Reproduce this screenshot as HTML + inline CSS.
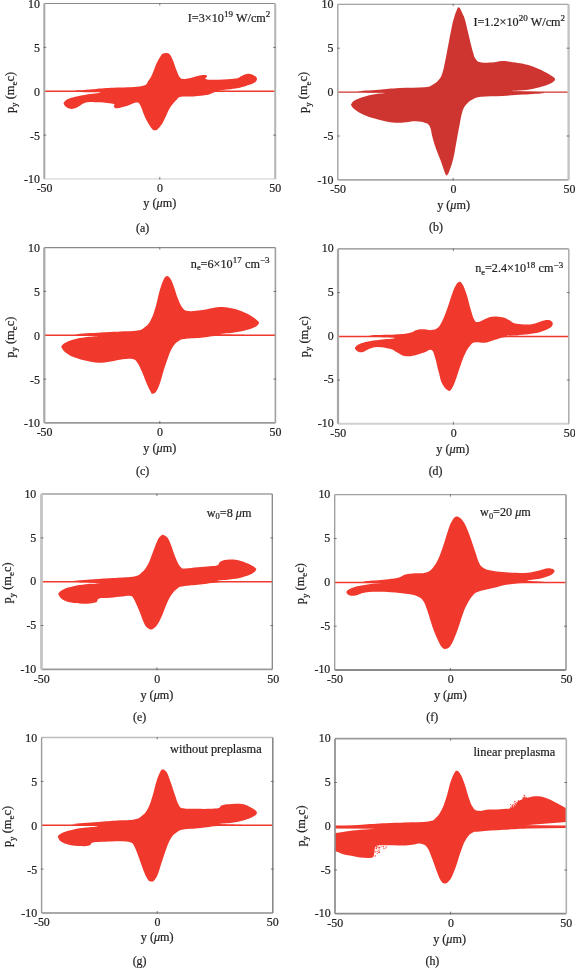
<!DOCTYPE html><html><head><meta charset="utf-8"><title>Figure</title><style>html,body{margin:0;padding:0;background:#fff}svg{display:block}text{font-family:"Liberation Serif","DejaVu Serif",serif;fill:#231f20;stroke:#231f20;stroke-width:0.22px}</style></head><body>
<svg width="575" height="968" viewBox="0 0 575 968">
<rect width="575" height="968" fill="#fff"/>
<g id="panel-a">
<clipPath id="clip-a"><rect x="44.3" y="3.5" width="230.9" height="175.4"/></clipPath>
<g clip-path="url(#clip-a)">
<line x1="44.3" y1="91.2" x2="275.2" y2="91.2" stroke="#f1382c" stroke-width="1.45"/>
<path d="M75.3 90.7C77.4 90.1 87.8 89.5 96.2 88.9C104.5 88.2 107.9 88.2 117.1 87.6C126.3 87.0 135.9 87.3 142.1 85.9C148.4 84.6 146.3 83.2 148.4 80.7C150.5 78.2 150.9 77.0 152.6 73.4C154.2 69.9 155.1 66.5 156.7 63.0C158.4 59.4 159.6 57.5 160.9 55.7C162.2 53.8 162.2 54.1 163.3 53.6C164.4 53.0 165.2 52.8 166.4 52.9C167.7 53.1 168.3 52.8 169.6 54.2C170.8 55.6 171.2 56.4 172.7 59.8C174.2 63.3 175.4 67.8 176.9 71.3C178.3 74.9 178.8 76.0 180.0 77.6C181.3 79.1 181.3 78.9 183.1 79.0C185.0 79.2 186.5 78.8 189.4 78.2C192.3 77.6 194.6 76.5 197.8 75.9C200.9 75.3 203.2 74.9 205.1 75.1C206.9 75.2 206.9 75.7 207.1 76.5C207.4 77.4 203.8 78.6 206.1 79.2C208.4 79.9 212.8 79.8 218.6 79.7C224.5 79.5 230.7 79.4 235.3 78.6C239.9 77.9 239.3 76.8 241.6 75.9C243.9 75.0 244.7 74.3 246.8 74.0C248.9 73.7 250.2 73.8 252.0 74.4C253.9 75.1 255.2 76.1 256.2 77.2C257.2 78.2 257.3 78.5 256.8 79.7C256.4 80.8 256.3 81.5 254.1 82.8C251.9 84.1 249.5 84.8 245.8 85.9C242.0 87.1 240.8 87.5 235.3 88.4C229.9 89.4 217.0 90.0 218.6 90.5C220.3 91.1 243.7 90.9 243.7 91.1C243.7 91.4 225.7 90.9 218.6 91.6C211.5 92.3 213.2 93.7 208.2 94.7C203.2 95.7 199.0 95.9 193.6 96.4C188.2 96.8 184.4 96.2 181.1 96.8C177.7 97.4 179.0 97.5 176.9 99.5C174.8 101.5 172.7 103.7 170.6 106.8C168.5 109.9 168.1 111.8 166.4 115.2C164.8 118.5 163.9 120.8 162.3 123.5C160.6 126.2 159.4 127.4 158.1 128.7C156.8 130.1 156.8 130.1 155.7 130.2C154.6 130.3 154.0 130.7 152.6 129.4C151.1 128.0 150.1 126.3 148.4 123.5C146.7 120.7 145.9 118.9 144.2 115.2C142.5 111.4 141.7 107.2 140.0 104.7C138.4 102.2 138.4 102.4 135.9 102.6C133.4 102.8 131.3 104.6 127.5 105.8C123.7 106.9 119.8 108.1 117.1 108.3C114.4 108.5 114.8 107.7 113.9 106.8C113.1 105.9 116.4 104.6 112.9 103.7C109.3 102.8 101.6 102.4 96.2 102.2C90.8 102.0 89.5 101.6 85.8 102.6C82.0 103.6 80.3 106.0 77.4 107.2C74.5 108.5 73.4 109.0 71.1 108.9C68.8 108.8 67.4 107.8 65.9 106.8C64.5 105.8 64.3 104.5 63.8 103.7C63.4 102.8 63.2 103.5 63.8 102.6C64.5 101.8 64.7 100.7 67.0 99.5C69.3 98.3 71.6 97.7 75.3 96.8C79.1 95.8 80.7 95.5 85.8 94.7C90.8 93.9 100.4 93.1 100.4 92.6C100.4 92.1 90.8 92.6 85.8 92.2C80.7 91.8 73.2 91.4 75.3 90.7Z" fill="#f1382c"/>
</g>
<line x1="44.3" y1="3.5" x2="275.2" y2="3.5" stroke="#8a8a8a" stroke-width="1.1"/>
<line x1="44.3" y1="178.9" x2="275.2" y2="178.9" stroke="#e2e2e2" stroke-width="1.6"/>
<line x1="44.3" y1="3.5" x2="44.3" y2="178.9" stroke="#a8a8a8" stroke-width="2.0"/>
<line x1="275.2" y1="3.5" x2="275.2" y2="178.9" stroke="#b4b4b4" stroke-width="2.0"/>
<text x="39.9" y="8.0" font-size="11.9" text-anchor="end">10</text>
<line x1="43.5" y1="47.4" x2="46.3" y2="47.4" stroke="#606060" stroke-width="0.8"/>
<line x1="276.0" y1="47.4" x2="273.2" y2="47.4" stroke="#606060" stroke-width="0.8"/>
<text x="39.9" y="51.9" font-size="11.9" text-anchor="end">5</text>
<text x="39.9" y="95.7" font-size="11.9" text-anchor="end">0</text>
<line x1="43.5" y1="135.1" x2="46.3" y2="135.1" stroke="#606060" stroke-width="0.8"/>
<line x1="276.0" y1="135.1" x2="273.2" y2="135.1" stroke="#606060" stroke-width="0.8"/>
<text x="39.9" y="139.6" font-size="11.9" text-anchor="end">-5</text>
<text x="39.9" y="183.4" font-size="11.9" text-anchor="end">-10</text>
<text x="44.6" y="192.3" font-size="11.9" text-anchor="middle">-50</text>
<line x1="159.8" y1="3.1" x2="159.8" y2="5.5" stroke="#606060" stroke-width="0.8"/>
<line x1="159.8" y1="179.7" x2="159.8" y2="176.9" stroke="#606060" stroke-width="0.8"/>
<text x="160.1" y="192.3" font-size="11.9" text-anchor="middle">0</text>
<text x="275.2" y="192.3" font-size="11.9" text-anchor="middle">50</text>
<text x="159.8" y="207.4" font-size="12.2" text-anchor="middle">y (<tspan font-style="italic">μ</tspan>m)</text>
<text transform="translate(13.8 92.5) rotate(-90)" font-size="12.4" text-anchor="middle">p<tspan font-size="9" dy="3.6">y</tspan><tspan dy="-3.6"> (m</tspan><tspan font-size="9" dy="3.2">e</tspan><tspan dy="-3.2">c)</tspan></text>
<text x="142.6" y="231.6" font-size="11.9" text-anchor="middle">(a)</text>
<text x="187.8" y="22.0" font-size="12.2" text-anchor="start">I=3×10<tspan font-size="9" dy="-4.6" letter-spacing="0.15">19</tspan><tspan dy="4.6"> W/cm</tspan><tspan font-size="9" dy="-4.6" letter-spacing="0.15">2</tspan></text>
</g>
<g id="panel-b">
<clipPath id="clip-b"><rect x="337.8" y="4.2" width="230.8" height="175.7"/></clipPath>
<g clip-path="url(#clip-b)">
<line x1="337.8" y1="92.1" x2="568.6" y2="92.1" stroke="#cf3530" stroke-width="1.45"/>
<path d="M357.9 91.4C360.0 90.9 370.4 90.4 378.8 89.8C387.1 89.1 390.4 88.6 399.6 88.1C408.8 87.6 418.0 88.0 424.7 87.3C431.4 86.6 430.1 86.1 433.0 84.6C436.0 83.0 437.4 81.6 439.3 79.3C441.2 77.0 441.3 76.4 442.4 73.1C443.6 69.7 443.6 68.9 444.9 62.6C446.2 56.4 447.4 49.3 448.9 41.8C450.4 34.2 451.1 30.1 452.2 25.1C453.3 20.0 453.5 19.7 454.4 16.7C455.3 13.7 456.1 11.7 456.9 9.8C457.7 7.9 457.8 7.4 458.6 7.3C459.3 7.2 459.8 7.9 460.6 9.4C461.5 10.9 462.1 12.5 462.9 14.6C463.8 16.7 463.9 15.7 465.0 19.8C466.2 24.0 467.2 29.0 468.8 35.5C470.4 42.0 471.5 47.4 473.0 52.2C474.4 57.0 474.6 57.5 476.1 59.5C477.6 61.5 477.1 61.6 480.3 62.2C483.4 62.8 487.4 62.9 491.8 62.6C496.1 62.4 498.0 61.0 502.2 61.0C506.4 60.9 508.5 61.7 512.6 62.2C516.8 62.8 518.9 62.8 523.1 63.7C527.2 64.6 529.3 65.3 533.5 66.8C537.7 68.4 540.2 69.5 543.9 71.4C547.7 73.3 550.1 74.6 552.3 76.2C554.5 77.8 555.0 78.1 555.0 79.3C555.0 80.6 554.5 81.1 552.3 82.5C550.1 83.8 547.7 84.8 543.9 86.0C540.2 87.3 537.7 87.9 533.5 88.7C529.3 89.6 527.2 89.7 523.1 90.2C518.9 90.6 509.7 90.7 512.6 91.0C515.6 91.4 531.4 91.5 537.7 91.9C543.9 92.2 546.9 92.4 543.9 92.9C541.0 93.5 531.4 94.0 523.1 94.6C514.7 95.2 510.5 95.4 502.2 95.9C493.8 96.3 487.2 96.0 481.3 96.7C475.5 97.4 475.9 97.7 473.0 99.2C470.0 100.7 468.8 101.6 466.7 104.0C464.6 106.4 464.0 106.9 462.5 111.3C461.1 115.7 460.6 119.7 459.4 125.9C458.1 132.2 457.5 135.9 456.3 142.6C455.0 149.3 454.6 153.6 453.1 159.3C451.7 165.1 450.2 168.5 449.2 171.4C448.1 174.4 448.4 173.1 447.9 173.9C447.3 174.8 447.1 175.9 446.5 175.6C445.9 175.3 445.8 175.1 444.7 172.3C443.6 169.4 442.7 166.0 441.0 161.4C439.3 156.8 437.9 154.2 436.2 149.3C434.5 144.5 433.8 141.8 432.5 137.2C431.2 132.6 431.3 129.2 429.7 126.3C428.1 123.5 427.4 123.8 424.7 122.8C422.0 121.8 420.1 121.5 416.3 121.3C412.6 121.2 410.1 121.9 405.9 122.2C401.7 122.5 399.6 123.0 395.5 122.8C391.3 122.6 389.2 122.2 385.0 121.3C380.8 120.5 378.8 119.9 374.6 118.6C370.4 117.4 367.9 116.7 364.1 115.1C360.4 113.4 358.3 112.1 355.8 110.3C353.3 108.5 352.4 107.5 351.6 106.1C350.8 104.7 350.8 104.6 351.6 103.4C352.4 102.1 353.3 101.2 355.8 99.8C358.3 98.5 360.4 97.8 364.1 96.7C367.9 95.6 370.4 94.9 374.6 94.2C378.8 93.4 386.3 93.3 385.0 92.9C383.8 92.6 373.7 92.8 368.3 92.5C362.9 92.2 355.8 92.0 357.9 91.4Z" fill="#cf3530"/>
</g>
<line x1="337.8" y1="4.2" x2="568.6" y2="4.2" stroke="#8a8a8a" stroke-width="1.1"/>
<line x1="337.8" y1="179.9" x2="568.6" y2="179.9" stroke="#a8a8a8" stroke-width="1.8"/>
<line x1="337.8" y1="4.2" x2="337.8" y2="179.9" stroke="#a8a8a8" stroke-width="1.5"/>
<line x1="568.6" y1="4.2" x2="568.6" y2="179.9" stroke="#c2c2c2" stroke-width="2.3"/>
<text x="333.4" y="8.2" font-size="11.9" text-anchor="end">10</text>
<line x1="337.0" y1="48.2" x2="339.8" y2="48.2" stroke="#606060" stroke-width="0.8"/>
<line x1="569.4" y1="48.2" x2="566.6" y2="48.2" stroke="#606060" stroke-width="0.8"/>
<text x="333.4" y="52.1" font-size="11.9" text-anchor="end">5</text>
<text x="333.4" y="96.0" font-size="11.9" text-anchor="end">0</text>
<line x1="337.0" y1="136.0" x2="339.8" y2="136.0" stroke="#606060" stroke-width="0.8"/>
<line x1="569.4" y1="136.0" x2="566.6" y2="136.0" stroke="#606060" stroke-width="0.8"/>
<text x="333.4" y="139.9" font-size="11.9" text-anchor="end">-5</text>
<text x="333.4" y="183.8" font-size="11.9" text-anchor="end">-10</text>
<text x="338.1" y="193.0" font-size="11.9" text-anchor="middle">-50</text>
<line x1="453.2" y1="3.9" x2="453.2" y2="6.2" stroke="#606060" stroke-width="0.8"/>
<line x1="453.2" y1="180.7" x2="453.2" y2="177.9" stroke="#606060" stroke-width="0.8"/>
<text x="453.5" y="193.0" font-size="11.9" text-anchor="middle">0</text>
<text x="569.5" y="193.0" font-size="11.9" text-anchor="middle">50</text>
<text x="453.6" y="208.6" font-size="12.2" text-anchor="middle">y (<tspan font-style="italic">μ</tspan>m)</text>
<text transform="translate(307.3 92.4) rotate(-90)" font-size="12.4" text-anchor="middle">p<tspan font-size="9" dy="3.6">y</tspan><tspan dy="-3.6"> (m</tspan><tspan font-size="9" dy="3.2">e</tspan><tspan dy="-3.2">c)</tspan></text>
<text x="436.0" y="231.4" font-size="11.9" text-anchor="middle">(b)</text>
<text x="473.4" y="25.5" font-size="12.2" text-anchor="start">I=1.2×10<tspan font-size="9" dy="-4.6" letter-spacing="0.15">20</tspan><tspan dy="4.6"> W/cm</tspan><tspan font-size="9" dy="-4.6" letter-spacing="0.15">2</tspan></text>
</g>
<g id="panel-c">
<clipPath id="clip-c"><rect x="44.3" y="247.6" width="231.1" height="175.3"/></clipPath>
<g clip-path="url(#clip-c)">
<line x1="44.3" y1="335.2" x2="275.4" y2="335.2" stroke="#f1382c" stroke-width="1.45"/>
<path d="M76.5 334.2C79.9 333.6 92.1 333.0 100.9 332.5C109.6 331.9 113.0 331.9 120.4 331.5C127.7 331.1 132.5 331.3 137.4 330.5C142.3 329.7 142.0 329.4 144.7 327.3C147.4 325.3 148.6 324.2 150.8 320.0C153.0 315.9 154.0 312.3 155.7 306.7C157.4 301.1 157.8 297.2 159.3 292.0C160.8 286.9 161.6 284.3 163.0 281.1C164.4 277.9 164.8 276.7 166.3 276.2C167.8 275.7 168.9 276.5 170.4 278.7C172.0 280.8 172.6 283.3 174.1 287.2C175.5 291.1 176.0 294.0 177.7 298.1C179.4 302.3 180.4 305.3 182.6 307.9C184.8 310.5 185.0 310.5 188.7 311.0C192.3 311.5 196.0 310.9 200.9 310.3C205.7 309.7 208.7 308.5 213.0 307.9C217.4 307.2 218.9 307.0 222.8 307.1C226.7 307.3 228.6 307.7 232.5 308.6C236.4 309.5 238.4 310.0 242.3 311.5C246.2 313.1 248.8 314.4 252.0 316.4C255.2 318.3 256.8 319.8 258.1 321.3C259.4 322.7 259.3 322.5 258.6 323.7C257.8 324.9 257.2 326.0 254.4 327.3C251.7 328.7 249.1 329.4 244.7 330.5C240.3 331.6 237.4 332.0 232.5 332.7C227.7 333.4 217.9 333.7 220.4 334.2C222.8 334.6 244.7 334.6 244.7 334.9C244.7 335.2 229.1 335.0 220.4 335.6C211.6 336.2 207.7 337.2 200.9 337.8C194.1 338.5 190.6 338.2 186.3 338.8C181.9 339.4 181.6 339.1 179.0 340.7C176.3 342.3 175.1 343.4 172.9 346.8C170.7 350.2 169.9 352.7 168.0 357.8C166.1 362.9 164.8 367.0 163.1 372.4C161.4 377.8 160.9 380.7 159.5 384.6C158.0 388.5 157.3 390.0 155.8 391.9C154.4 393.7 153.2 393.8 152.2 393.8C151.2 393.8 151.8 393.7 150.8 391.9C149.8 390.0 148.8 388.5 147.1 384.6C145.4 380.7 144.2 376.8 142.3 372.4C140.3 368.0 139.3 365.3 137.4 362.7C135.4 360.0 135.4 359.7 132.5 359.0C129.6 358.3 127.2 358.8 122.8 359.2C118.4 359.7 115.5 360.8 110.6 361.4C105.7 362.1 103.3 362.8 98.4 362.7C93.6 362.5 91.1 361.8 86.3 360.7C81.4 359.6 78.2 359.0 74.1 357.3C69.9 355.6 68.0 354.3 65.6 352.4C63.1 350.6 62.6 349.4 61.9 348.0C61.2 346.7 60.9 346.8 61.9 345.6C62.9 344.4 63.9 343.3 66.8 342.0C69.7 340.6 72.1 339.8 76.5 338.8C80.9 337.8 83.8 337.5 88.7 336.8C93.6 336.2 101.8 335.9 100.9 335.6C99.9 335.3 88.7 335.7 83.8 335.4C79.0 335.1 73.1 334.8 76.5 334.2Z" fill="#f1382c"/>
</g>
<line x1="44.3" y1="247.6" x2="275.4" y2="247.6" stroke="#8a8a8a" stroke-width="1.2"/>
<line x1="44.3" y1="422.9" x2="275.4" y2="422.9" stroke="#9a9a9a" stroke-width="1.9"/>
<line x1="44.3" y1="247.6" x2="44.3" y2="422.9" stroke="#a8a8a8" stroke-width="2.2"/>
<line x1="275.4" y1="247.6" x2="275.4" y2="422.9" stroke="#a0a0a0" stroke-width="1.6"/>
<text x="39.9" y="252.0" font-size="11.9" text-anchor="end">10</text>
<line x1="43.5" y1="291.4" x2="46.3" y2="291.4" stroke="#606060" stroke-width="0.8"/>
<line x1="276.2" y1="291.4" x2="273.4" y2="291.4" stroke="#606060" stroke-width="0.8"/>
<text x="39.9" y="295.8" font-size="11.9" text-anchor="end">5</text>
<text x="39.9" y="339.6" font-size="11.9" text-anchor="end">0</text>
<line x1="43.5" y1="379.1" x2="46.3" y2="379.1" stroke="#606060" stroke-width="0.8"/>
<line x1="276.2" y1="379.1" x2="273.4" y2="379.1" stroke="#606060" stroke-width="0.8"/>
<text x="39.9" y="383.5" font-size="11.9" text-anchor="end">-5</text>
<text x="39.9" y="427.3" font-size="11.9" text-anchor="end">-10</text>
<text x="44.6" y="436.3" font-size="11.9" text-anchor="middle">-50</text>
<line x1="159.8" y1="247.2" x2="159.8" y2="249.6" stroke="#606060" stroke-width="0.8"/>
<line x1="159.8" y1="423.7" x2="159.8" y2="420.9" stroke="#606060" stroke-width="0.8"/>
<text x="160.1" y="436.3" font-size="11.9" text-anchor="middle">0</text>
<text x="275.4" y="436.3" font-size="11.9" text-anchor="middle">50</text>
<text x="159.8" y="451.9" font-size="12.2" text-anchor="middle">y (<tspan font-style="italic">μ</tspan>m)</text>
<text transform="translate(13.8 337.2) rotate(-90)" font-size="12.4" text-anchor="middle">p<tspan font-size="9" dy="3.6">y</tspan><tspan dy="-3.6"> (m</tspan><tspan font-size="9" dy="3.2">e</tspan><tspan dy="-3.2">c)</tspan></text>
<text x="142.7" y="475.0" font-size="11.9" text-anchor="middle">(c)</text>
<text x="190.8" y="267.5" font-size="12.2" text-anchor="start">n<tspan font-size="8.4" dy="2.6">e</tspan><tspan dy="-2.6">=6×10</tspan><tspan font-size="9" dy="-4.6" letter-spacing="0.15">17</tspan><tspan dy="4.6"> cm</tspan><tspan font-size="9" dy="-4.6" letter-spacing="0.15">−3</tspan></text>
</g>
<g id="panel-d">
<clipPath id="clip-d"><rect x="338.0" y="248.9" width="230.8" height="174.9"/></clipPath>
<g clip-path="url(#clip-d)">
<line x1="338.0" y1="336.4" x2="568.8" y2="336.4" stroke="#f1382c" stroke-width="1.45"/>
<path d="M370.5 335.4C373.9 334.9 387.1 334.9 394.9 334.5C402.7 334.0 405.1 333.9 409.5 333.0C413.9 332.1 413.9 330.8 416.8 330.1C419.7 329.3 421.2 329.3 424.1 329.3C427.0 329.3 428.7 330.3 431.4 330.1C434.1 329.8 435.3 330.0 437.5 328.1C439.7 326.3 440.4 324.7 442.4 320.8C444.3 316.9 445.3 314.0 447.2 308.7C449.2 303.3 450.4 298.7 452.1 294.0C453.8 289.4 454.3 288.0 455.7 285.5C457.1 283.1 457.7 282.0 459.1 281.9C460.5 281.7 461.2 282.1 462.7 284.8C464.3 287.5 465.3 290.5 466.9 295.3C468.4 300.0 469.1 303.8 470.5 308.7C472.0 313.5 472.7 316.9 474.2 319.6C475.6 322.3 475.6 322.2 477.8 322.0C480.0 321.9 482.2 320.0 485.1 318.9C488.1 317.8 489.0 317.0 492.4 316.7C495.8 316.3 498.8 316.4 502.2 317.2C505.6 317.9 507.0 319.1 509.5 320.3C511.9 321.6 511.4 322.4 514.4 323.3C517.3 324.1 520.2 324.4 524.1 324.5C528.0 324.6 530.4 324.4 533.8 323.7C537.2 323.1 538.5 322.1 541.1 321.3C543.8 320.5 545.1 319.9 547.2 319.9C549.3 319.9 550.5 320.4 551.6 321.3C552.7 322.2 553.0 323.1 552.6 324.5C552.2 325.8 551.9 326.7 549.7 328.1C547.4 329.6 544.8 330.7 541.1 331.8C537.5 332.9 535.8 333.1 531.4 333.7C527.0 334.4 524.1 334.6 519.2 334.9C514.4 335.3 503.6 335.4 507.0 335.7C510.5 335.9 536.3 335.9 536.3 336.2C536.3 336.4 515.3 336.2 507.0 336.9C498.8 337.6 499.3 338.7 494.9 339.8C490.5 341.0 489.0 342.3 485.1 342.7C481.2 343.2 478.3 341.8 475.4 342.3C472.5 342.7 472.5 343.1 470.5 345.2C468.6 347.2 467.6 348.6 465.7 352.5C463.7 356.4 462.7 359.3 460.8 364.7C458.8 370.0 457.6 374.6 455.9 379.3C454.2 383.9 453.7 385.5 452.3 387.8C450.8 390.1 450.6 391.4 448.6 390.7C446.6 390.0 444.3 387.9 442.4 384.1C440.4 380.4 440.2 377.3 438.7 372.0C437.2 366.6 436.5 361.7 435.0 357.4C433.6 353.0 433.6 351.0 431.4 350.0C429.2 349.1 427.5 351.4 424.1 352.5C420.7 353.6 418.2 354.7 414.4 355.4C410.5 356.1 408.0 356.7 404.6 356.1C401.2 355.5 400.2 353.9 397.3 352.5C394.4 351.0 393.9 349.9 390.0 348.8C386.1 347.7 382.0 346.9 377.8 346.9C373.7 346.9 372.2 347.8 369.3 348.8C366.4 349.9 365.4 351.4 363.2 352.0C361.0 352.6 359.9 352.3 358.3 351.8C356.8 351.2 356.0 350.2 355.4 349.3C354.8 348.4 354.6 348.2 355.4 347.1C356.3 346.1 357.0 345.1 359.6 344.0C362.1 342.8 363.9 342.4 368.1 341.5C372.2 340.7 374.9 340.6 380.3 339.8C385.6 339.1 395.4 338.5 394.9 337.9C394.4 337.3 382.7 337.4 377.8 336.9C373.0 336.4 367.1 335.9 370.5 335.4Z" fill="#f1382c"/>
</g>
<line x1="338.0" y1="248.9" x2="568.8" y2="248.9" stroke="#8a8a8a" stroke-width="1.3"/>
<line x1="338.0" y1="423.8" x2="568.8" y2="423.8" stroke="#d0d0d0" stroke-width="1.9"/>
<line x1="338.0" y1="248.9" x2="338.0" y2="423.8" stroke="#a8a8a8" stroke-width="2.2"/>
<line x1="568.8" y1="248.9" x2="568.8" y2="423.8" stroke="#b0b0b0" stroke-width="1.6"/>
<text x="333.6" y="252.1" font-size="11.9" text-anchor="end">10</text>
<line x1="337.2" y1="292.6" x2="340.0" y2="292.6" stroke="#606060" stroke-width="0.8"/>
<line x1="569.6" y1="292.6" x2="566.8" y2="292.6" stroke="#606060" stroke-width="0.8"/>
<text x="333.6" y="295.8" font-size="11.9" text-anchor="end">5</text>
<text x="333.6" y="339.6" font-size="11.9" text-anchor="end">0</text>
<line x1="337.2" y1="380.1" x2="340.0" y2="380.1" stroke="#606060" stroke-width="0.8"/>
<line x1="569.6" y1="380.1" x2="566.8" y2="380.1" stroke="#606060" stroke-width="0.8"/>
<text x="333.6" y="383.3" font-size="11.9" text-anchor="end">-5</text>
<text x="333.6" y="427.0" font-size="11.9" text-anchor="end">-10</text>
<text x="338.3" y="436.8" font-size="11.9" text-anchor="middle">-50</text>
<line x1="453.4" y1="248.5" x2="453.4" y2="250.9" stroke="#606060" stroke-width="0.8"/>
<line x1="453.4" y1="424.6" x2="453.4" y2="421.8" stroke="#606060" stroke-width="0.8"/>
<text x="453.7" y="436.8" font-size="11.9" text-anchor="middle">0</text>
<text x="569.7" y="436.8" font-size="11.9" text-anchor="middle">50</text>
<text x="452.8" y="453.0" font-size="12.2" text-anchor="middle">y (<tspan font-style="italic">μ</tspan>m)</text>
<text transform="translate(307.5 336.7) rotate(-90)" font-size="12.4" text-anchor="middle">p<tspan font-size="9" dy="3.6">y</tspan><tspan dy="-3.6"> (m</tspan><tspan font-size="9" dy="3.2">e</tspan><tspan dy="-3.2">c)</tspan></text>
<text x="435.6" y="475.3" font-size="11.9" text-anchor="middle">(d)</text>
<text x="475.2" y="272.3" font-size="12.2" text-anchor="start">n<tspan font-size="8.4" dy="2.6">e</tspan><tspan dy="-2.6">=2.4×10</tspan><tspan font-size="9" dy="-4.6" letter-spacing="0.15">18</tspan><tspan dy="4.6"> cm</tspan><tspan font-size="9" dy="-4.6" letter-spacing="0.15">−3</tspan></text>
</g>
<g id="panel-e">
<clipPath id="clip-e"><rect x="41.5" y="494.0" width="230.8" height="175.4"/></clipPath>
<g clip-path="url(#clip-e)">
<line x1="41.5" y1="581.7" x2="272.3" y2="581.7" stroke="#f1382c" stroke-width="1.45"/>
<path d="M73.5 580.9C76.9 580.2 89.1 579.6 97.9 578.9C106.6 578.3 110.0 578.2 117.4 577.7C124.7 577.2 129.5 577.5 134.4 576.5C139.3 575.5 139.0 575.0 141.7 572.6C144.4 570.3 145.6 568.8 147.8 564.8C150.0 560.8 150.7 557.5 152.7 552.7C154.6 547.8 155.8 543.9 157.5 540.5C159.2 537.1 160.0 536.7 161.2 535.6C162.3 534.5 162.0 534.5 163.3 534.9C164.5 535.3 165.9 535.5 167.4 537.6C169.0 539.7 169.4 541.1 171.1 545.3C172.8 549.6 174.0 554.4 176.0 558.7C177.9 563.1 178.9 565.3 180.8 567.3C182.8 569.2 182.3 568.5 185.7 568.5C189.1 568.5 193.0 567.7 197.9 567.3C202.7 566.8 206.2 566.7 210.0 566.3C213.9 565.9 215.2 566.3 217.4 565.3C219.5 564.3 218.6 562.3 221.0 561.2C223.4 560.0 225.9 559.6 229.5 559.5C233.2 559.3 235.6 559.6 239.3 560.4C242.9 561.3 244.6 562.1 247.8 563.6C251.0 565.1 253.5 566.4 255.1 567.7C256.7 569.1 256.6 568.9 255.8 570.2C255.1 571.5 254.3 572.6 251.4 574.1C248.6 575.5 246.1 576.4 241.7 577.5C237.3 578.6 234.4 578.8 229.5 579.4C224.7 580.1 214.9 580.2 217.4 580.7C219.8 581.1 241.7 581.3 241.7 581.6C241.7 582.0 226.1 581.7 217.4 582.4C208.6 583.0 204.7 584.0 197.9 584.8C191.1 585.6 187.4 585.5 183.3 586.3C179.1 587.0 179.6 586.9 177.2 588.7C174.7 590.5 173.3 592.0 171.1 595.3C168.9 598.5 168.2 600.6 166.2 605.0C164.3 609.4 163.3 613.0 161.3 617.2C159.4 621.3 158.4 623.3 156.5 625.7C154.5 628.1 153.3 628.9 151.6 629.4C149.9 629.8 149.3 629.4 147.8 628.1C146.3 626.9 145.8 626.7 144.1 623.3C142.4 619.9 141.2 615.7 139.3 611.1C137.3 606.5 136.1 603.2 134.4 600.1C132.7 597.1 133.2 596.7 130.7 596.0C128.3 595.3 126.4 596.1 122.2 596.5C118.1 596.8 114.7 597.3 110.0 597.7C105.4 598.1 102.0 597.5 99.1 598.4C96.2 599.4 98.6 601.5 95.4 602.6C92.3 603.6 88.1 603.8 83.3 603.8C78.4 603.8 75.2 603.4 71.1 602.6C66.9 601.7 65.0 600.9 62.6 599.4C60.1 597.9 59.6 596.6 58.9 595.3C58.2 593.9 57.9 594.0 58.9 592.8C59.9 591.6 60.9 590.5 63.8 589.2C66.7 587.9 69.1 587.2 73.5 586.3C77.9 585.3 80.3 584.9 85.7 584.3C91.1 583.7 101.3 583.7 100.3 583.3C99.3 582.9 86.2 582.8 80.8 582.4C75.5 581.9 70.1 581.6 73.5 580.9Z" fill="#f1382c"/>
</g>
<line x1="41.5" y1="494.0" x2="272.3" y2="494.0" stroke="#a0a0a0" stroke-width="1.5"/>
<line x1="41.5" y1="669.4" x2="272.3" y2="669.4" stroke="#9a9a9a" stroke-width="1.6"/>
<line x1="41.5" y1="494.0" x2="41.5" y2="669.4" stroke="#c4c4c4" stroke-width="2.8"/>
<line x1="272.3" y1="494.0" x2="272.3" y2="669.4" stroke="#858585" stroke-width="1.3"/>
<text x="36.3" y="497.6" font-size="11.9" text-anchor="end">10</text>
<line x1="40.7" y1="537.9" x2="43.5" y2="537.9" stroke="#606060" stroke-width="0.8"/>
<line x1="273.1" y1="537.9" x2="270.3" y2="537.9" stroke="#606060" stroke-width="0.8"/>
<text x="36.3" y="541.5" font-size="11.9" text-anchor="end">5</text>
<text x="36.3" y="585.3" font-size="11.9" text-anchor="end">0</text>
<line x1="40.7" y1="625.5" x2="43.5" y2="625.5" stroke="#606060" stroke-width="0.8"/>
<line x1="273.1" y1="625.5" x2="270.3" y2="625.5" stroke="#606060" stroke-width="0.8"/>
<text x="36.3" y="629.1" font-size="11.9" text-anchor="end">-5</text>
<text x="36.3" y="673.0" font-size="11.9" text-anchor="end">-10</text>
<text x="41.8" y="682.8" font-size="11.9" text-anchor="middle">-50</text>
<line x1="156.9" y1="493.6" x2="156.9" y2="496.0" stroke="#606060" stroke-width="0.8"/>
<line x1="156.9" y1="670.2" x2="156.9" y2="667.4" stroke="#606060" stroke-width="0.8"/>
<text x="157.2" y="682.8" font-size="11.9" text-anchor="middle">0</text>
<text x="273.2" y="682.8" font-size="11.9" text-anchor="middle">50</text>
<text x="156.9" y="699.0" font-size="12.2" text-anchor="middle">y (<tspan font-style="italic">μ</tspan>m)</text>
<text transform="translate(11.0 583.0) rotate(-90)" font-size="12.4" text-anchor="middle">p<tspan font-size="9" dy="3.6">y</tspan><tspan dy="-3.6"> (m</tspan><tspan font-size="9" dy="3.2">e</tspan><tspan dy="-3.2">c)</tspan></text>
<text x="139.7" y="721.3" font-size="11.9" text-anchor="middle">(e)</text>
<text x="206.8" y="516.5" font-size="12.2" text-anchor="start">w<tspan font-size="8.4" dy="2.6">0</tspan><tspan dy="-2.6">=8 </tspan><tspan font-style="italic">μ</tspan>m</text>
</g>
<g id="panel-f">
<clipPath id="clip-f"><rect x="334.7" y="494.7" width="231.3" height="175.3"/></clipPath>
<g clip-path="url(#clip-f)">
<line x1="334.7" y1="582.4" x2="566.0" y2="582.4" stroke="#f1382c" stroke-width="1.45"/>
<path d="M366.5 581.1C370.4 580.5 379.7 580.1 386.0 579.4C392.3 578.7 394.3 578.7 398.2 577.7C402.1 576.7 402.1 575.4 405.5 574.5C408.9 573.6 411.3 573.6 415.2 573.3C419.1 573.0 421.6 573.8 425.0 572.8C428.4 571.8 429.6 571.3 432.3 568.4C434.9 565.6 436.2 563.1 438.4 558.7C440.5 554.3 441.1 551.9 443.0 546.5C444.8 541.2 445.9 536.8 447.6 531.9C449.3 527.0 449.7 525.2 451.3 522.2C452.8 519.2 453.9 517.7 455.6 516.8C457.2 515.9 458.0 516.7 459.5 517.5C461.0 518.4 461.8 519.3 463.1 521.2C464.5 523.1 465.0 524.3 466.3 527.0C467.5 529.8 468.2 531.4 469.4 534.8C470.7 538.2 471.4 540.5 472.6 544.1C473.8 547.6 474.3 549.1 475.5 552.6C476.7 556.2 477.2 558.8 478.7 561.9C480.2 564.9 480.6 566.0 483.1 567.7C485.5 569.4 486.9 569.5 490.9 570.4C494.9 571.3 498.2 571.6 503.0 572.1C507.9 572.6 510.4 572.7 515.2 572.8C520.1 573.0 523.0 573.2 527.4 572.8C531.8 572.4 533.7 571.7 537.1 570.9C540.5 570.1 541.8 569.4 544.4 568.9C547.1 568.4 548.6 568.2 550.5 568.4C552.5 568.6 553.5 569.0 554.2 569.9C554.8 570.8 554.7 571.7 553.7 572.8C552.7 574.0 552.1 574.6 549.3 575.7C546.5 576.9 544.0 577.7 539.6 578.7C535.2 579.6 526.4 579.9 527.4 580.6C528.4 581.3 544.4 581.6 544.4 582.1C544.4 582.5 534.2 582.4 527.4 582.8C520.6 583.2 516.2 583.5 510.4 584.3C504.5 585.0 502.6 585.7 498.2 586.7C493.8 587.7 492.3 588.2 488.4 589.1C484.5 590.1 481.8 590.4 478.7 591.6C475.6 592.8 475.4 592.8 473.1 595.2C470.8 597.7 469.3 599.8 467.3 603.7C465.2 607.6 464.5 609.6 462.6 614.7C460.7 619.8 459.7 624.0 457.8 629.3C455.8 634.7 454.6 637.8 452.9 641.5C451.1 645.1 450.6 646.1 449.0 647.6C447.4 649.1 445.9 648.7 445.1 649.0C444.3 649.4 445.7 649.8 444.9 649.3C444.2 648.7 442.8 648.4 441.3 646.4C439.8 644.3 439.1 642.9 437.4 639.0C435.6 635.2 434.4 632.2 432.5 626.9C430.6 621.5 429.7 617.4 427.9 612.3C426.1 607.2 425.5 604.5 423.5 601.3C421.5 598.1 420.8 597.9 417.7 596.4C414.5 595.0 413.3 594.8 407.9 594.0C402.6 593.2 397.2 592.7 390.9 592.3C384.5 591.9 381.6 591.7 376.3 591.8C370.9 591.9 368.0 592.1 364.1 592.8C360.2 593.5 359.5 594.6 356.8 595.2C354.1 595.8 352.6 596.0 350.7 595.7C348.7 595.4 347.8 594.5 347.0 593.5C346.3 592.5 346.1 592.0 347.0 590.8C348.0 589.7 349.0 589.0 351.9 587.9C354.8 586.8 357.3 586.4 361.7 585.5C366.0 584.6 369.0 584.1 373.8 583.5C378.7 582.9 387.5 582.8 386.0 582.6C384.5 582.3 370.4 582.6 366.5 582.3C362.6 582.0 362.6 581.7 366.5 581.1Z" fill="#f1382c"/>
</g>
<line x1="334.7" y1="494.7" x2="566.0" y2="494.7" stroke="#a0a0a0" stroke-width="1.3"/>
<line x1="334.7" y1="670.0" x2="566.0" y2="670.0" stroke="#8c8c8c" stroke-width="1.8"/>
<line x1="334.7" y1="494.7" x2="334.7" y2="670.0" stroke="#9a9a9a" stroke-width="1.3"/>
<line x1="566.0" y1="494.7" x2="566.0" y2="670.0" stroke="#9a9a9a" stroke-width="1.6"/>
<text x="330.3" y="498.1" font-size="11.9" text-anchor="end">10</text>
<line x1="333.9" y1="538.5" x2="336.7" y2="538.5" stroke="#606060" stroke-width="0.8"/>
<line x1="566.8" y1="538.5" x2="564.0" y2="538.5" stroke="#606060" stroke-width="0.8"/>
<text x="330.3" y="541.9" font-size="11.9" text-anchor="end">5</text>
<text x="330.3" y="585.8" font-size="11.9" text-anchor="end">0</text>
<line x1="333.9" y1="626.2" x2="336.7" y2="626.2" stroke="#606060" stroke-width="0.8"/>
<line x1="566.8" y1="626.2" x2="564.0" y2="626.2" stroke="#606060" stroke-width="0.8"/>
<text x="330.3" y="629.6" font-size="11.9" text-anchor="end">-5</text>
<text x="330.3" y="673.4" font-size="11.9" text-anchor="end">-10</text>
<text x="335.0" y="683.4" font-size="11.9" text-anchor="middle">-50</text>
<line x1="450.4" y1="494.3" x2="450.4" y2="496.7" stroke="#606060" stroke-width="0.8"/>
<line x1="450.4" y1="670.8" x2="450.4" y2="668.0" stroke="#606060" stroke-width="0.8"/>
<text x="450.7" y="683.4" font-size="11.9" text-anchor="middle">0</text>
<text x="566.6" y="683.4" font-size="11.9" text-anchor="middle">50</text>
<text x="450.4" y="698.8" font-size="12.2" text-anchor="middle">y (<tspan font-style="italic">μ</tspan>m)</text>
<text transform="translate(304.2 583.6) rotate(-90)" font-size="12.4" text-anchor="middle">p<tspan font-size="9" dy="3.6">y</tspan><tspan dy="-3.6"> (m</tspan><tspan font-size="9" dy="3.2">e</tspan><tspan dy="-3.2">c)</tspan></text>
<text x="432.2" y="720.8" font-size="11.9" text-anchor="middle">(f)</text>
<text x="480.1" y="516.3" font-size="12.2" text-anchor="start">w<tspan font-size="8.4" dy="2.6">0</tspan><tspan dy="-2.6">=20 </tspan><tspan font-style="italic">μ</tspan>m</text>
</g>
<g id="panel-g">
<clipPath id="clip-g"><rect x="41.6" y="737.5" width="231.2" height="175.5"/></clipPath>
<g clip-path="url(#clip-g)">
<line x1="41.6" y1="825.2" x2="272.8" y2="825.2" stroke="#f1382c" stroke-width="1.45"/>
<path d="M73.5 823.9C76.9 823.2 89.1 822.7 97.9 822.0C106.6 821.3 110.0 821.0 117.4 820.5C124.7 820.0 129.5 820.4 134.4 819.5C139.3 818.7 139.0 818.3 141.7 816.1C144.4 814.0 145.6 813.0 147.8 808.8C150.0 804.7 151.0 800.8 152.7 795.4C154.4 790.1 154.8 786.7 156.3 782.0C157.8 777.4 158.7 774.8 160.0 772.3C161.2 769.8 161.2 769.4 162.6 769.4C163.9 769.4 165.1 769.8 166.7 772.3C168.3 774.8 169.0 777.7 170.6 782.0C172.2 786.4 173.1 789.6 174.7 794.2C176.4 798.8 177.2 802.4 178.9 805.2C180.6 808.0 180.0 807.6 183.3 808.3C186.6 809.1 190.1 808.7 195.4 808.8C200.8 808.9 205.4 809.0 210.0 808.8C214.7 808.7 216.1 808.8 218.6 808.1C221.0 807.4 219.5 806.0 222.2 805.2C224.9 804.3 228.1 804.2 232.0 804.0C235.9 803.7 238.3 803.5 241.7 804.0C245.1 804.4 246.3 805.2 249.0 806.4C251.7 807.6 253.5 808.7 255.1 810.0C256.6 811.4 257.1 811.9 256.8 813.2C256.5 814.5 255.9 815.2 253.4 816.6C250.9 818.0 248.4 819.1 244.1 820.3C239.8 821.5 236.8 822.0 232.0 822.7C227.1 823.4 217.8 823.5 219.8 823.9C221.7 824.4 242.2 824.5 241.7 824.9C241.2 825.3 226.1 825.2 217.4 825.9C208.6 826.6 204.7 827.6 197.9 828.3C191.1 829.0 187.4 828.8 183.3 829.5C179.1 830.3 179.6 830.3 177.2 832.0C174.7 833.7 173.3 834.6 171.1 838.0C168.9 841.5 168.2 843.9 166.2 849.0C164.3 854.1 163.1 858.5 161.3 863.6C159.6 868.7 159.2 871.2 157.7 874.6C156.2 878.0 155.5 879.3 154.0 880.7C152.6 882.0 151.6 881.6 150.4 881.4C149.1 881.1 149.0 881.3 147.8 879.4C146.5 877.6 145.8 876.3 144.1 872.1C142.4 868.0 141.2 863.9 139.3 858.7C137.3 853.6 136.1 849.8 134.4 846.6C132.7 843.3 133.7 843.5 130.7 842.4C127.8 841.4 124.9 841.4 119.8 841.2C114.7 841.1 110.5 841.5 105.2 841.7C99.8 841.9 96.2 841.7 93.0 842.4C89.8 843.2 91.8 844.6 89.3 845.4C86.9 846.1 84.7 846.2 80.8 846.1C76.9 846.0 73.8 845.7 69.9 844.9C66.0 844.0 63.6 843.1 61.3 841.7C59.1 840.3 59.0 839.3 58.4 838.0C57.8 836.8 57.4 836.8 58.4 835.6C59.5 834.4 60.8 833.4 63.8 832.2C66.8 831.0 69.1 830.4 73.5 829.5C77.9 828.6 80.8 828.2 85.7 827.6C90.6 826.9 98.8 826.8 97.9 826.4C96.9 825.9 85.7 825.9 80.8 825.4C76.0 824.9 70.1 824.6 73.5 823.9Z" fill="#f1382c"/>
</g>
<line x1="41.6" y1="737.5" x2="272.8" y2="737.5" stroke="#bcbcbc" stroke-width="1.4"/>
<line x1="41.6" y1="913.0" x2="272.8" y2="913.0" stroke="#8c8c8c" stroke-width="1.6"/>
<line x1="41.6" y1="737.5" x2="41.6" y2="913.0" stroke="#9a9a9a" stroke-width="1.4"/>
<line x1="272.8" y1="737.5" x2="272.8" y2="913.0" stroke="#8a8a8a" stroke-width="1.6"/>
<text x="37.2" y="741.9" font-size="11.9" text-anchor="end">10</text>
<line x1="40.8" y1="781.4" x2="43.6" y2="781.4" stroke="#606060" stroke-width="0.8"/>
<line x1="273.6" y1="781.4" x2="270.8" y2="781.4" stroke="#606060" stroke-width="0.8"/>
<text x="37.2" y="785.8" font-size="11.9" text-anchor="end">5</text>
<text x="37.2" y="829.6" font-size="11.9" text-anchor="end">0</text>
<line x1="40.8" y1="869.1" x2="43.6" y2="869.1" stroke="#606060" stroke-width="0.8"/>
<line x1="273.6" y1="869.1" x2="270.8" y2="869.1" stroke="#606060" stroke-width="0.8"/>
<text x="37.2" y="873.5" font-size="11.9" text-anchor="end">-5</text>
<text x="37.2" y="917.4" font-size="11.9" text-anchor="end">-10</text>
<text x="41.9" y="926.4" font-size="11.9" text-anchor="middle">-50</text>
<line x1="157.2" y1="737.1" x2="157.2" y2="739.5" stroke="#606060" stroke-width="0.8"/>
<line x1="157.2" y1="913.8" x2="157.2" y2="911.0" stroke="#606060" stroke-width="0.8"/>
<text x="157.5" y="926.4" font-size="11.9" text-anchor="middle">0</text>
<text x="272.8" y="926.4" font-size="11.9" text-anchor="middle">50</text>
<text x="157.2" y="940.5" font-size="12.2" text-anchor="middle">y (<tspan font-style="italic">μ</tspan>m)</text>
<text transform="translate(11.1 826.5) rotate(-90)" font-size="12.4" text-anchor="middle">p<tspan font-size="9" dy="3.6">y</tspan><tspan dy="-3.6"> (m</tspan><tspan font-size="9" dy="3.2">e</tspan><tspan dy="-3.2">c)</tspan></text>
<text x="139.6" y="964.5" font-size="11.9" text-anchor="middle">(g)</text>
<text x="170.1" y="752.5" font-size="12.35" text-anchor="start">without preplasma</text>
</g>
<g id="panel-h">
<clipPath id="clip-h"><rect x="335.0" y="738.7" width="231.3" height="175.0"/></clipPath>
<g clip-path="url(#clip-h)">
<line x1="335.0" y1="826.2" x2="566.3" y2="826.2" stroke="#f1382c" stroke-width="1.45"/>
<path d="M333.4 826.8C337.8 826.5 346.1 825.9 355.3 825.2C364.6 824.5 370.0 824.0 379.7 823.5C389.4 823.0 394.3 822.9 404.0 822.5C413.8 822.1 422.1 822.4 428.4 821.5C434.7 820.7 433.0 820.5 435.7 818.1C438.4 815.7 439.6 814.0 441.8 809.6C444.0 805.2 445.0 801.6 446.7 796.2C448.4 790.9 448.8 787.3 450.3 782.8C451.8 778.3 452.7 776.3 454.0 773.8C455.2 771.4 455.3 770.7 456.6 770.7C457.8 770.7 458.6 771.1 460.2 773.8C461.8 776.5 462.9 779.3 464.6 784.0C466.3 788.8 467.1 792.8 468.7 797.4C470.4 802.1 470.9 804.5 472.9 807.2C474.8 809.9 475.2 810.3 478.5 810.8C481.8 811.3 484.3 810.0 489.4 809.6C494.6 809.2 499.2 809.4 504.0 808.9C508.9 808.4 510.9 808.7 513.8 807.2C516.7 805.6 515.7 803.0 518.7 801.1C521.6 799.1 524.5 798.4 528.4 797.4C532.3 796.5 534.2 796.0 538.1 796.2C542.0 796.5 544.0 797.2 547.9 798.7C551.8 800.1 553.9 801.6 557.6 803.5C561.3 805.5 564.6 807.4 566.4 808.4L566.4 821.9L525.0 825.2L566.4 825.9L566.4 828.0L528.4 828.6C523.5 828.8 513.8 829.2 504.0 829.8C494.3 830.4 486.0 830.9 479.7 831.5C473.4 832.1 475.1 831.3 472.4 832.7C469.7 834.2 468.5 835.4 466.3 838.8C464.1 842.2 463.4 844.7 461.4 849.8C459.5 854.9 458.4 859.3 456.6 864.4C454.8 869.5 454.0 871.9 452.4 875.4C450.8 878.8 450.1 879.8 448.5 881.4C446.9 883.0 446.0 883.6 444.4 883.4C442.8 883.1 442.1 882.6 440.6 880.2C439.1 877.9 438.6 876.1 436.9 871.7C435.2 867.3 434.0 863.2 432.0 858.3C430.1 853.4 429.4 850.3 427.2 847.4C425.0 844.4 423.8 844.3 421.1 843.7C418.4 843.1 417.2 844.1 413.8 844.4C410.4 844.8 409.4 845.3 404.0 845.4C398.7 845.5 392.3 845.2 387.0 845.2C381.7 845.2 380.1 845.0 377.7 845.4C375.4 845.8 375.9 845.4 375.1 847.4C374.3 849.3 374.6 853.0 373.9 855.1C373.1 857.2 374.1 857.3 371.4 857.8C368.7 858.3 364.5 858.0 360.2 857.6C355.9 857.1 353.4 856.3 350.0 855.6C346.6 854.9 346.5 855.2 343.2 854.2C339.9 853.1 335.4 851.2 333.4 850.5L333.4 833.5C335.9 833.1 340.3 832.3 345.6 831.5C351.0 830.8 354.4 830.4 360.2 829.8C366.1 829.3 371.9 828.9 374.8 828.7L333.4 828.4Z" fill="#f1382c"/>
<circle cx="378.9" cy="847.7" r="0.61" fill="#f1382c"/><circle cx="375.5" cy="851.9" r="0.50" fill="#f1382c"/><circle cx="375.3" cy="851.6" r="0.36" fill="#f1382c"/><circle cx="380.4" cy="846.8" r="0.39" fill="#f1382c"/><circle cx="376.2" cy="848.5" r="0.60" fill="#f1382c"/><circle cx="375.1" cy="855.4" r="0.47" fill="#f1382c"/><circle cx="376.4" cy="847.3" r="0.47" fill="#f1382c"/><circle cx="385.5" cy="848.0" r="0.58" fill="#f1382c"/><circle cx="381.9" cy="846.7" r="0.37" fill="#f1382c"/><circle cx="377.3" cy="853.5" r="0.52" fill="#f1382c"/><circle cx="378.7" cy="852.4" r="0.53" fill="#f1382c"/><circle cx="383.9" cy="848.7" r="0.58" fill="#f1382c"/><circle cx="376.6" cy="851.4" r="0.37" fill="#f1382c"/><circle cx="383.5" cy="846.7" r="0.63" fill="#f1382c"/><circle cx="374.8" cy="851.1" r="0.42" fill="#f1382c"/><circle cx="376.1" cy="846.6" r="0.66" fill="#f1382c"/><circle cx="376.2" cy="848.7" r="0.51" fill="#f1382c"/><circle cx="386.3" cy="846.9" r="0.53" fill="#f1382c"/><circle cx="378.3" cy="850.6" r="0.49" fill="#f1382c"/><circle cx="376.5" cy="847.9" r="0.44" fill="#f1382c"/><circle cx="377.7" cy="851.3" r="0.59" fill="#f1382c"/><circle cx="378.0" cy="846.0" r="0.52" fill="#f1382c"/><circle cx="379.5" cy="852.2" r="0.73" fill="#f1382c"/><circle cx="375.2" cy="855.9" r="0.66" fill="#f1382c"/><circle cx="379.8" cy="850.4" r="0.39" fill="#f1382c"/><circle cx="383.1" cy="846.7" r="0.38" fill="#f1382c"/><circle cx="377.3" cy="847.8" r="0.49" fill="#f1382c"/><circle cx="375.2" cy="846.0" r="0.41" fill="#f1382c"/><circle cx="375.9" cy="850.0" r="0.36" fill="#f1382c"/><circle cx="376.5" cy="848.8" r="0.49" fill="#f1382c"/><circle cx="379.4" cy="847.4" r="0.69" fill="#f1382c"/><circle cx="381.0" cy="846.9" r="0.39" fill="#f1382c"/><circle cx="379.1" cy="848.9" r="0.68" fill="#f1382c"/><circle cx="376.7" cy="846.3" r="0.73" fill="#f1382c"/>
<circle cx="518.7" cy="802.2" r="0.36" fill="#f1382c"/><circle cx="518.5" cy="801.9" r="0.69" fill="#f1382c"/><circle cx="524.6" cy="798.8" r="0.48" fill="#f1382c"/><circle cx="513.0" cy="806.6" r="0.62" fill="#f1382c"/><circle cx="519.4" cy="802.9" r="0.43" fill="#f1382c"/><circle cx="523.1" cy="798.6" r="0.69" fill="#f1382c"/><circle cx="524.0" cy="798.5" r="0.61" fill="#f1382c"/><circle cx="513.0" cy="804.6" r="0.53" fill="#f1382c"/><circle cx="516.5" cy="804.9" r="0.45" fill="#f1382c"/><circle cx="515.1" cy="806.3" r="0.59" fill="#f1382c"/><circle cx="524.2" cy="795.2" r="0.70" fill="#f1382c"/><circle cx="525.5" cy="797.1" r="0.48" fill="#f1382c"/><circle cx="514.4" cy="806.7" r="0.42" fill="#f1382c"/><circle cx="520.4" cy="801.2" r="0.67" fill="#f1382c"/><circle cx="523.1" cy="797.6" r="0.63" fill="#f1382c"/><circle cx="512.2" cy="808.2" r="0.58" fill="#f1382c"/><circle cx="525.2" cy="798.2" r="0.52" fill="#f1382c"/><circle cx="512.3" cy="805.3" r="0.63" fill="#f1382c"/><circle cx="515.5" cy="804.4" r="0.49" fill="#f1382c"/><circle cx="515.0" cy="801.4" r="0.68" fill="#f1382c"/><circle cx="522.4" cy="800.5" r="0.40" fill="#f1382c"/><circle cx="525.0" cy="798.1" r="0.63" fill="#f1382c"/><circle cx="512.1" cy="806.1" r="0.58" fill="#f1382c"/><circle cx="514.2" cy="802.1" r="0.54" fill="#f1382c"/><circle cx="510.6" cy="804.5" r="0.58" fill="#f1382c"/><circle cx="519.2" cy="802.9" r="0.68" fill="#f1382c"/><circle cx="516.7" cy="802.6" r="0.42" fill="#f1382c"/><circle cx="513.7" cy="804.8" r="0.45" fill="#f1382c"/><circle cx="514.2" cy="805.8" r="0.50" fill="#f1382c"/><circle cx="512.7" cy="807.4" r="0.67" fill="#f1382c"/><circle cx="515.4" cy="803.6" r="0.67" fill="#f1382c"/><circle cx="517.4" cy="804.0" r="0.67" fill="#f1382c"/><circle cx="517.9" cy="802.0" r="0.36" fill="#f1382c"/><circle cx="517.8" cy="803.9" r="0.41" fill="#f1382c"/><circle cx="510.9" cy="809.2" r="0.52" fill="#f1382c"/><circle cx="522.0" cy="800.0" r="0.54" fill="#f1382c"/><circle cx="515.0" cy="804.0" r="0.62" fill="#f1382c"/><circle cx="512.6" cy="808.0" r="0.55" fill="#f1382c"/><circle cx="514.7" cy="806.1" r="0.53" fill="#f1382c"/><circle cx="518.4" cy="800.6" r="0.62" fill="#f1382c"/><circle cx="524.4" cy="796.9" r="0.53" fill="#f1382c"/><circle cx="518.7" cy="802.7" r="0.59" fill="#f1382c"/><circle cx="517.2" cy="802.6" r="0.68" fill="#f1382c"/><circle cx="522.0" cy="800.8" r="0.66" fill="#f1382c"/><circle cx="526.0" cy="798.1" r="0.68" fill="#f1382c"/><circle cx="523.2" cy="797.8" r="0.40" fill="#f1382c"/><circle cx="512.6" cy="807.6" r="0.43" fill="#f1382c"/><circle cx="512.0" cy="808.4" r="0.58" fill="#f1382c"/><circle cx="523.1" cy="799.5" r="0.60" fill="#f1382c"/><circle cx="521.2" cy="801.1" r="0.40" fill="#f1382c"/><circle cx="524.5" cy="798.0" r="0.68" fill="#f1382c"/><circle cx="517.2" cy="804.5" r="0.52" fill="#f1382c"/><circle cx="526.6" cy="797.2" r="0.50" fill="#f1382c"/><circle cx="518.8" cy="802.7" r="0.47" fill="#f1382c"/><circle cx="513.5" cy="806.3" r="0.36" fill="#f1382c"/><circle cx="518.5" cy="801.0" r="0.50" fill="#f1382c"/><circle cx="510.6" cy="808.4" r="0.53" fill="#f1382c"/><circle cx="510.9" cy="807.2" r="0.69" fill="#f1382c"/><circle cx="523.2" cy="799.4" r="0.44" fill="#f1382c"/><circle cx="511.6" cy="808.9" r="0.62" fill="#f1382c"/><circle cx="514.6" cy="805.3" r="0.67" fill="#f1382c"/><circle cx="523.4" cy="798.7" r="0.44" fill="#f1382c"/><circle cx="512.3" cy="806.3" r="0.60" fill="#f1382c"/><circle cx="511.8" cy="807.6" r="0.37" fill="#f1382c"/><circle cx="521.7" cy="800.8" r="0.68" fill="#f1382c"/><circle cx="521.0" cy="801.7" r="0.63" fill="#f1382c"/><circle cx="512.1" cy="808.2" r="0.65" fill="#f1382c"/><circle cx="518.0" cy="803.7" r="0.47" fill="#f1382c"/><circle cx="519.2" cy="802.0" r="0.40" fill="#f1382c"/><circle cx="519.1" cy="802.7" r="0.43" fill="#f1382c"/>
</g>
<line x1="335.0" y1="738.7" x2="566.3" y2="738.7" stroke="#9a9a9a" stroke-width="1.8"/>
<line x1="335.0" y1="913.7" x2="566.3" y2="913.7" stroke="#8c8c8c" stroke-width="1.8"/>
<line x1="335.0" y1="738.7" x2="335.0" y2="913.7" stroke="#8c8c8c" stroke-width="1.7"/>
<line x1="566.3" y1="738.7" x2="566.3" y2="913.7" stroke="#b0b0b0" stroke-width="1.6"/>
<text x="330.6" y="742.3" font-size="11.9" text-anchor="end">10</text>
<line x1="334.2" y1="782.5" x2="337.0" y2="782.5" stroke="#606060" stroke-width="0.8"/>
<line x1="567.1" y1="782.5" x2="564.3" y2="782.5" stroke="#606060" stroke-width="0.8"/>
<text x="330.6" y="786.1" font-size="11.9" text-anchor="end">5</text>
<text x="330.6" y="829.8" font-size="11.9" text-anchor="end">0</text>
<line x1="334.2" y1="870.0" x2="337.0" y2="870.0" stroke="#606060" stroke-width="0.8"/>
<line x1="567.1" y1="870.0" x2="564.3" y2="870.0" stroke="#606060" stroke-width="0.8"/>
<text x="330.6" y="873.6" font-size="11.9" text-anchor="end">-5</text>
<text x="330.6" y="917.3" font-size="11.9" text-anchor="end">-10</text>
<text x="335.3" y="927.1" font-size="11.9" text-anchor="middle">-50</text>
<line x1="450.6" y1="738.3" x2="450.6" y2="740.7" stroke="#606060" stroke-width="0.8"/>
<line x1="450.6" y1="914.5" x2="450.6" y2="911.7" stroke="#606060" stroke-width="0.8"/>
<text x="450.9" y="927.1" font-size="11.9" text-anchor="middle">0</text>
<text x="566.3" y="927.1" font-size="11.9" text-anchor="middle">50</text>
<text x="449.6" y="943.2" font-size="12.2" text-anchor="middle">y (<tspan font-style="italic">μ</tspan>m)</text>
<text transform="translate(304.5 826.0) rotate(-90)" font-size="12.4" text-anchor="middle">p<tspan font-size="9" dy="3.6">y</tspan><tspan dy="-3.6"> (m</tspan><tspan font-size="9" dy="3.2">e</tspan><tspan dy="-3.2">c)</tspan></text>
<text x="432.4" y="964.6" font-size="11.9" text-anchor="middle">(h)</text>
<text x="473.4" y="755.7" font-size="12.35" text-anchor="start">linear preplasma</text>
</g>
</svg></body></html>
